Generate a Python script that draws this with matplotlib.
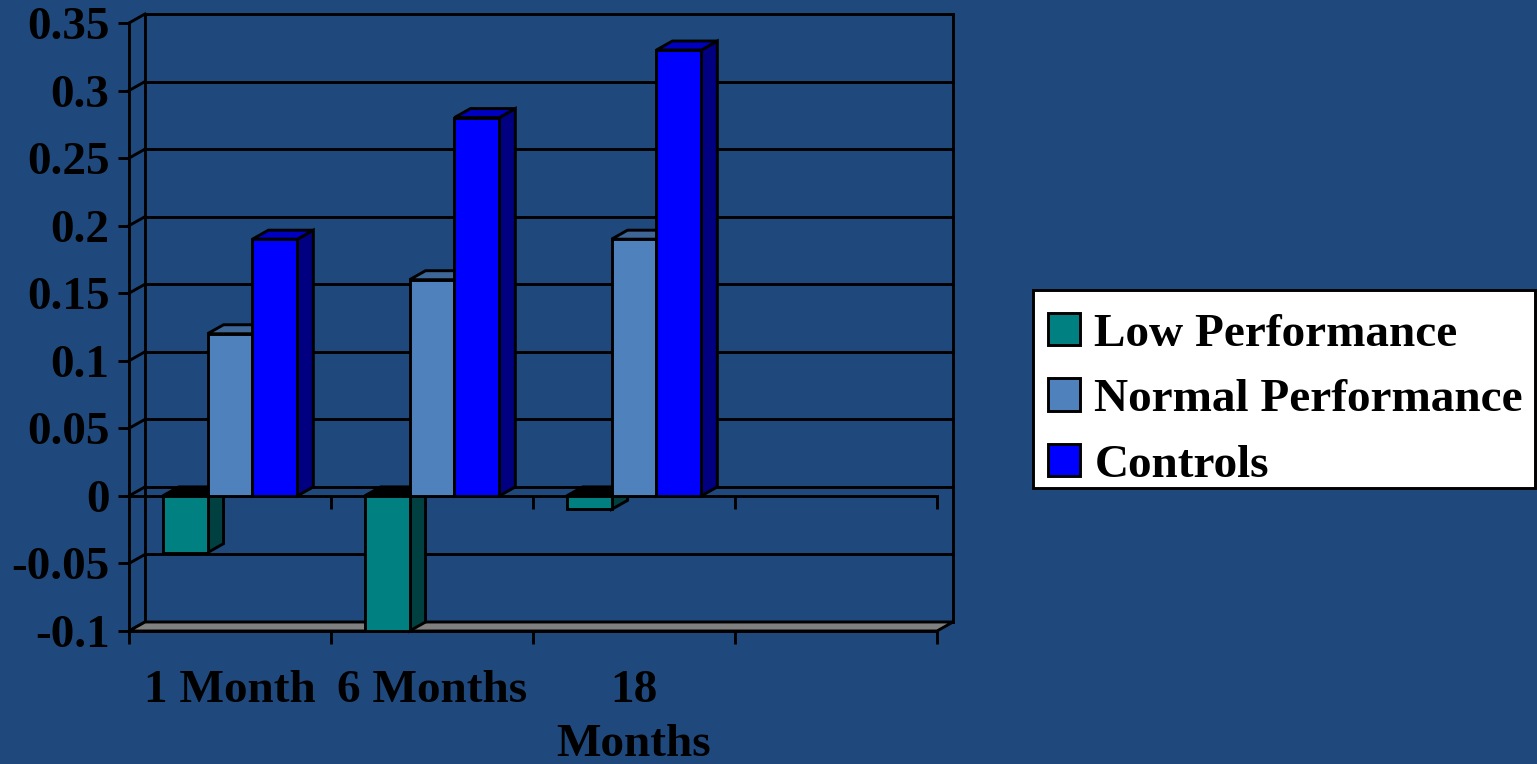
import matplotlib
matplotlib.use("Agg")
import matplotlib.pyplot as plt
from matplotlib.patches import Polygon, Patch, Rectangle
import numpy as np

# ---- data ----
categories = ["1 Month", "6 Months", "18\nMonths", ""]
series_names = ["Low Performance", "Normal Performance", "Controls"]
low_perf = [-0.042, -0.10, -0.01]
normal_perf = [0.12, 0.16, 0.19]
controls = [0.19, 0.28, 0.33]
y_ticks = [-0.1, -0.05, 0, 0.05, 0.1, 0.15, 0.2, 0.25, 0.3, 0.35]
y_tick_labels = ["-0.1", "-0.05", "0", "0.05", "0.1", "0.15", "0.2", "0.25", "0.3", "0.35"]

# ---- style ----
BG = "#1F497D"
front_cols = ["#008080", "#4F81BD", "#0000FF"]
side_cols = ["#004040", "#34557D", "#000080"]
top_cols = ["#000000", "#3E6696", "#0000C0"]
FONT = "Liberation Serif"
FS = 34
LW = 2.1

W, H = 1537, 764
fig = plt.figure(figsize=(W / 100, H / 100), dpi=100, facecolor=BG)

# front plane of the plot, in pixels
x_left, x_right, y_top, y_bot = 129, 937, 23, 631
ax = fig.add_axes([x_left / W, 1 - y_bot / H, (x_right - x_left) / W, (y_bot - y_top) / H])
ncat = len(categories)
ymin, ymax = y_ticks[0], y_ticks[-1]
ax.set_xlim(0, ncat)
ax.set_ylim(ymin, ymax)
ax.patch.set_visible(False)

# depth offset (pixels -> data units)
dpx, dpy = 16, 9
dx = dpx * ncat / (x_right - x_left)
dy = dpy * (ymax - ymin) / (y_bot - y_top)

# back wall grid lines and left wall diagonals
for v in y_ticks:
    ax.plot([dx, ncat + dx], [v + dy, v + dy], color="black", lw=LW, clip_on=False, zorder=1)
    ax.plot([0, dx], [v, v + dy], color="black", lw=LW, clip_on=False, zorder=1)
ax.plot([dx, dx], [ymin + dy, ymax + dy], color="black", lw=LW, clip_on=False, zorder=1)
ax.plot([ncat + dx, ncat + dx], [ymin + dy, ymax + dy], color="black", lw=LW, clip_on=False, zorder=1)

# floor
floor = Polygon([(0, ymin), (ncat, ymin), (ncat + dx, ymin + dy), (dx, ymin + dy)],
                closed=True, facecolor="#808080", edgecolor="black", lw=LW, clip_on=False, zorder=2)
ax.add_patch(floor)

# front zero line with ticks
edges = np.arange(ncat + 1)
ax.plot([0, ncat], [0, 0], color="black", lw=LW, zorder=3, clip_on=False)
ax.plot(edges[1:], np.zeros(ncat), linestyle="none", marker=3, ms=9, mew=LW, color="black",
        zorder=3, clip_on=False)

# bars
series = [low_perf, normal_perf, controls]
nser = len(series)
gap = 1.5
bw = 1.0 / (nser + gap)
z = 4
for i in range(len(low_perf)):
    for j, s in enumerate(series):
        v = s[i]
        x0 = i + gap * bw / 2 + j * bw
        x1 = x0 + bw
        top = max(v, 0)
        ec = dict(edgecolor="black", lw=LW, clip_on=False, joinstyle="miter")
        side = Polygon([(x1, 0), (x1, v), (x1 + dx, v + dy), (x1 + dx, dy)],
                       closed=True, facecolor=side_cols[j], zorder=z, **ec)
        topf = Polygon([(x0, top), (x1, top), (x1 + dx, top + dy), (x0 + dx, top + dy)],
                       closed=True, facecolor=top_cols[j], zorder=z, **ec)
        ax.add_patch(side)
        ax.add_patch(topf)
        ax.bar(x0, v, width=bw, bottom=0, align="edge", color=front_cols[j],
               edgecolor="black", lw=LW, zorder=z + 0.5, clip_on=False)
        z += 1

# axes spines / ticks
for sp in ["top", "right"]:
    ax.spines[sp].set_visible(False)
for sp in ["left", "bottom"]:
    ax.spines[sp].set_linewidth(LW)
    ax.spines[sp].set_zorder(3)
ax.set_yticks(y_ticks)
ax.set_yticklabels(y_tick_labels)
ax.tick_params(axis="y", direction="out", length=8, width=LW, pad=6, colors="black")
ax.set_xticks(np.arange(ncat) + 0.5)
ax.set_xticklabels(categories, linespacing=1.38)
ax.set_xticks(edges, minor=True)
ax.tick_params(axis="x", which="major", length=0, pad=28)
ax.tick_params(axis="x", which="minor", direction="out", length=9, width=LW)
for lab in ax.get_xticklabels() + ax.get_yticklabels():
    lab.set_fontfamily(FONT)
    lab.set_fontweight("bold")
    lab.set_fontsize(FS)
    lab.set_color("black")

# legend box
box = Rectangle((1033 / W, 1 - 488 / H), 502 / W, 198 / H, transform=fig.transFigure,
                facecolor="white", edgecolor="black", lw=LW, zorder=5)
fig.add_artist(box)

# legend
handles = [Patch(facecolor=c, edgecolor="black", lw=LW) for c in front_cols]
leg = fig.legend(handles, series_names, loc="upper left",
                 bbox_to_anchor=(1048 / W, 1 - 313 / H), bbox_transform=fig.transFigure,
                 prop=dict(family=FONT, weight="bold", size=FS),
                 handlelength=0.68, handleheight=0.68, handletextpad=0.3,
                 labelspacing=0.48, borderpad=0, borderaxespad=0, frameon=False)
leg.set_zorder(6)

fig.savefig("out.png", dpi=100, facecolor=BG)
